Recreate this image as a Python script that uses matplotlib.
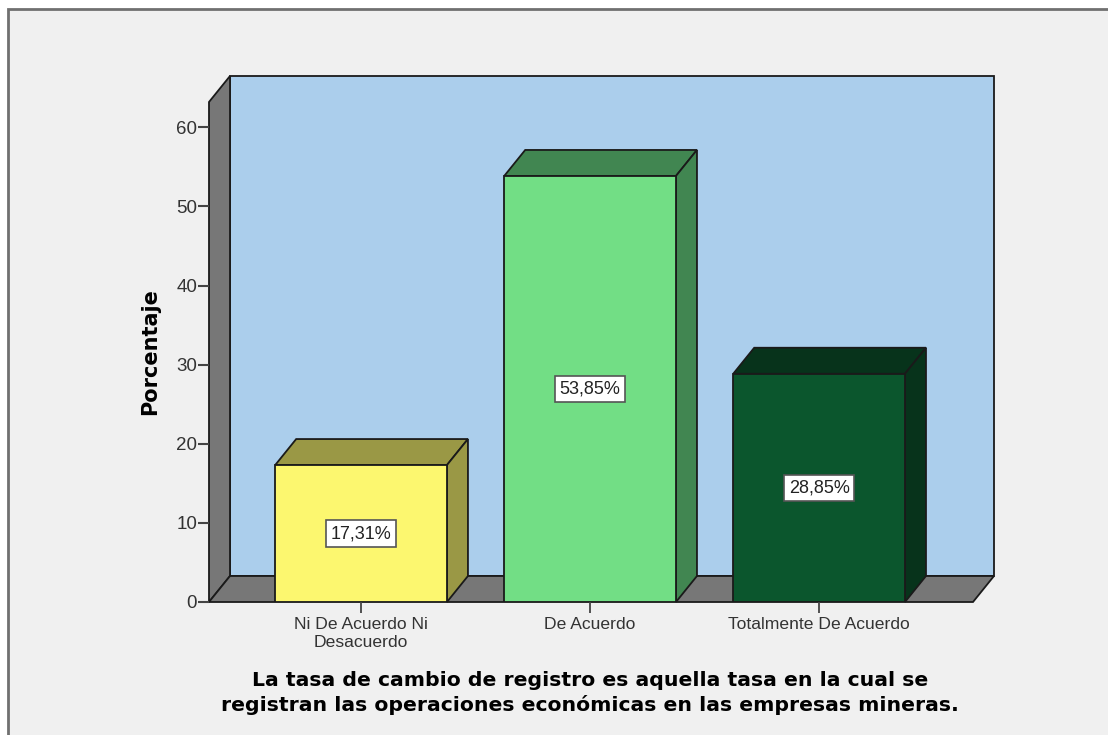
import matplotlib
matplotlib.use("Agg")
import matplotlib.pyplot as plt
from matplotlib.patches import Polygon, Rectangle

categorias = ["Ni De Acuerdo Ni\nDesacuerdo", "De Acuerdo", "Totalmente De Acuerdo"]
porcentajes = [17.31, 53.85, 28.85]
etiquetas = ["17,31%", "53,85%", "28,85%"]
ticks_y = [0, 10, 20, 30, 40, 50, 60]
colores = ["#FCF76F", "#72DE85", "#0B562D"]
colores_lado = ["#9A9845", "#418651", "#07331B"]

W, H = 1108, 735
ANCHO = 0.75
XMIN, XMAX = -0.664, 2.672
YMAX = 63.2
# profundidad del efecto 3D, en unidades de datos
DX = 21 / 229
DY = 26 / 7.91
LINEA = "#1a1a1a"


def caja(ax, puntos, color, zorder):
    ax.add_patch(Polygon(puntos, closed=True, facecolor=color, edgecolor=LINEA,
                         linewidth=1.3, zorder=zorder, clip_on=False))


plt.rcParams["font.family"] = ["Liberation Sans", "DejaVu Sans"]
fig = plt.figure(figsize=(W / 100, H / 100), dpi=100, facecolor="white")

# marco gris de fondo
fig.patches.append(Rectangle((8 / W, -0.02), (W + 20) / W, 1 - 9 / H + 0.02, transform=fig.transFigure,
                             facecolor="#F0F0F0", edgecolor="#707070", linewidth=2, zorder=-1))

ax = fig.add_axes([209 / W, 1 - 602 / H, (973 - 209) / W, 500 / H])
ax.set_xlim(XMIN, XMAX)
ax.set_ylim(0, YMAX)
ax.patch.set_visible(False)
for s in ax.spines.values():
    s.set_visible(False)

# paredes del fondo
caja(ax, [(XMIN + DX, DY), (XMAX + DX, DY), (XMAX + DX, YMAX + DY), (XMIN + DX, YMAX + DY)], "#ABCEEC", 1)
caja(ax, [(XMIN, 0), (XMIN + DX, DY), (XMIN + DX, YMAX + DY), (XMIN, YMAX)], "#777777", 1)
caja(ax, [(XMIN, 0), (XMAX, 0), (XMAX + DX, DY), (XMIN + DX, DY)], "#777777", 1)

# barras con cara superior y lateral
for i, v in enumerate(porcentajes):
    izq, der = i - ANCHO / 2, i + ANCHO / 2
    caja(ax, [(izq, v), (der, v), (der + DX, v + DY), (izq + DX, v + DY)], colores_lado[i], 2)
    caja(ax, [(der, 0), (der + DX, DY), (der + DX, v + DY), (der, v)], colores_lado[i], 2)
    ax.bar(i, v, width=ANCHO, color=colores[i], edgecolor=LINEA, linewidth=1.3, zorder=3)
    ax.text(i, v / 2, etiquetas[i], ha="center", va="center", fontsize=13, color="#222222", zorder=4,
            bbox=dict(boxstyle="square,pad=0.26", facecolor="white", edgecolor="#555555", linewidth=1.2))

ax.set_xticks(range(len(categorias)))
ax.set_xticklabels(categorias, fontsize=12.6, color="#333333", linespacing=1.2)
ax.set_yticks(ticks_y)
ax.tick_params(axis="y", labelsize=13.5, length=8, width=1.5, color="#444444", labelcolor="#333333", pad=0.5)
ax.tick_params(axis="x", length=8, width=1.3, color="#444444", pad=3)
ax.set_ylabel("Porcentaje", fontsize=15, fontweight="bold", family=["DejaVu Sans"])
ax.yaxis.set_label_coords(-49 / 764, 0.5)

fig.text(590 / W, 1 - 680 / H, "La tasa de cambio de registro es aquella tasa en la cual se",
         ha="center", va="center", fontsize=14.7, fontweight="bold", family=["DejaVu Sans"])
fig.text(590 / W, 1 - 705 / H, "registran las operaciones económicas en las empresas mineras.",
         ha="center", va="center", fontsize=14.7, fontweight="bold", family=["DejaVu Sans"])

fig.savefig("out.png", dpi=100, facecolor=fig.get_facecolor())
